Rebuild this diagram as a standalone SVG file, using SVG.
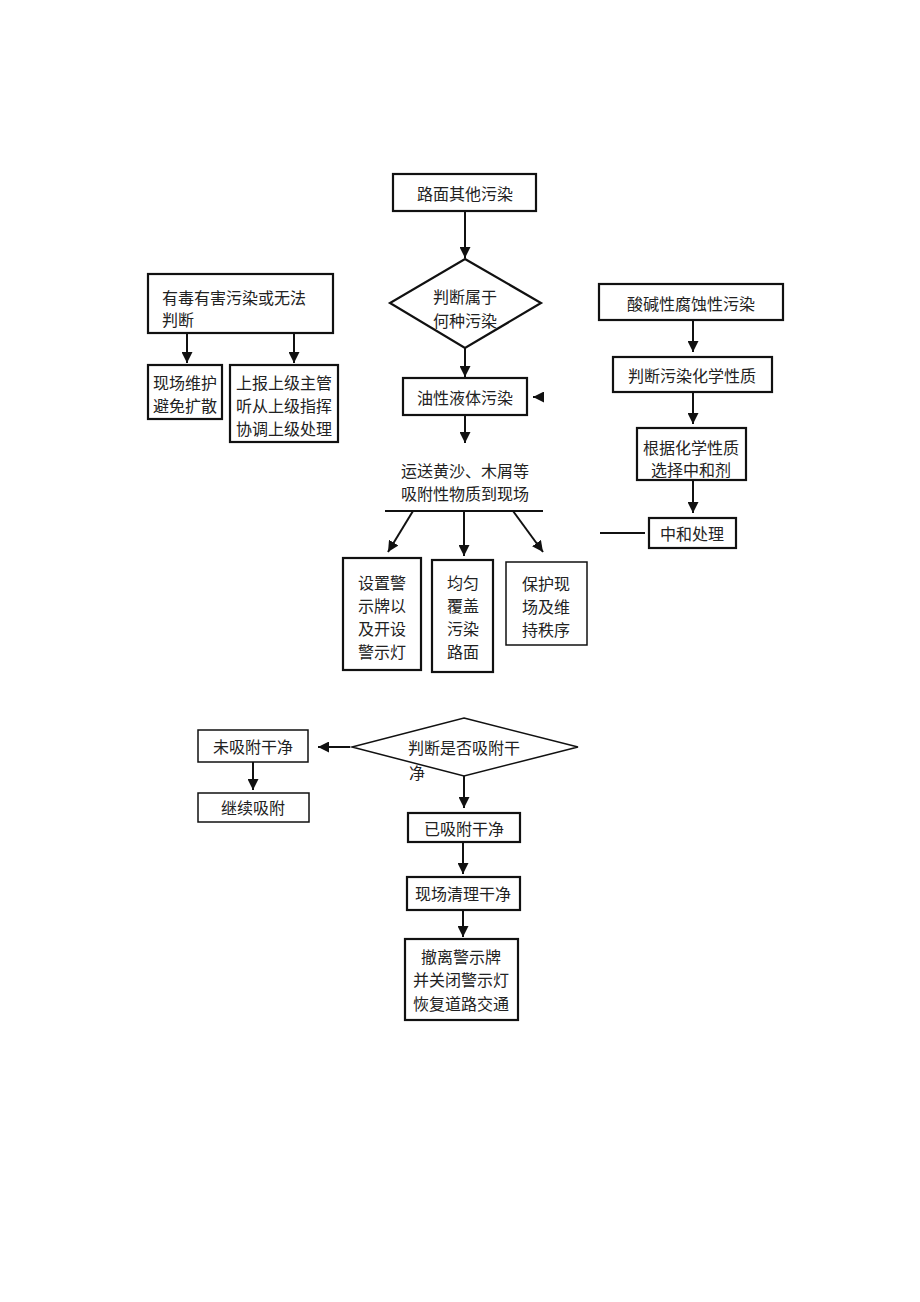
<svg xmlns="http://www.w3.org/2000/svg" width="920" height="1302" viewBox="0 0 920 1302">
<style>
.b{fill:#fff;stroke:#111;stroke-width:2.2}
.t{stroke:#111;stroke-width:1.5}
.c{fill:none;stroke:#111;stroke-width:2}
text{font-family:"Noto Sans CJK SC","Noto Sans CJK JP",sans-serif;font-size:16px;fill:#222;text-anchor:middle;dominant-baseline:central}
.l{text-anchor:start}
</style>
<defs>
<marker id="a" viewBox="0 0 10 10" refX="10" refY="5" markerWidth="5.5" markerHeight="5.5" orient="auto" markerUnits="strokeWidth">
<path d="M0,0 L10,5 L0,10 z" fill="#111"/>
</marker>
</defs>
<rect width="920" height="1302" fill="#fff"/>
<g id="connectors">
<path class="c" d="M465,211 V258" marker-end="url(#a)"/>
<path class="c" d="M465,348 V377" marker-end="url(#a)"/>
<path class="c" d="M542,397 H533" marker-end="url(#a)"/>
<path class="c" d="M465,415 V443" marker-end="url(#a)"/>
<path class="c" d="M385,511 H543"/>
<path class="c" d="M413,511 L388,552" marker-end="url(#a)"/>
<path class="c" d="M464,511 V556" marker-end="url(#a)"/>
<path class="c" d="M513,511 L543,552" marker-end="url(#a)"/>
<path class="c" d="M187,333 V363" marker-end="url(#a)"/>
<path class="c" d="M294,333 V363" marker-end="url(#a)"/>
<path class="c" d="M693,320 V352" marker-end="url(#a)"/>
<path class="c" d="M693,392 V424" marker-end="url(#a)"/>
<path class="c" d="M693,480 V513" marker-end="url(#a)"/>
<path class="c" d="M600,533 H645"/>
<path class="c" d="M350,747 H318" marker-end="url(#a)"/>
<path class="c" d="M253,762 V790" marker-end="url(#a)"/>
<path class="c" d="M464,776 V808" marker-end="url(#a)"/>
<path class="c" d="M463,842 V874" marker-end="url(#a)"/>
<path class="c" d="M463,910 V937" marker-end="url(#a)"/>
</g>
<g id="n1"><rect class="b" x="393" y="174" width="143" height="37"/><text x="465" y="193">路面其他污染</text></g>
<g id="n2"><polygon class="b" points="465,259 541,303 465,348 390,303"/><text x="465" y="296">判断属于</text><text x="465" y="320">何种污染</text></g>
<g id="n3"><rect class="b" x="403" y="378" width="124" height="37"/><text x="465" y="397">油性液体污染</text></g>
<g id="n4"><text x="465" y="470">运送黄沙、木屑等</text><text x="465" y="493">吸附性物质到现场</text></g>
<g id="n5"><rect class="b" x="343" y="558" width="78" height="112"/><text x="382" y="582">设置警</text><text x="382" y="605">示牌以</text><text x="382" y="628">及开设</text><text x="382" y="651">警示灯</text></g>
<g id="n6"><rect class="b" x="432" y="560" width="61" height="112"/><text x="463" y="582">均匀</text><text x="463" y="605">覆盖</text><text x="463" y="628">污染</text><text x="463" y="651">路面</text></g>
<g id="n7"><rect class="b t" x="506" y="562" width="81" height="83"/><text x="546" y="583">保护现</text><text x="546" y="606">场及维</text><text x="546" y="629">持秩序</text></g>
<g id="n8"><rect class="b" x="148" y="274" width="185" height="59"/><text class="l" x="162" y="297">有毒有害污染或无法</text><text class="l" x="162" y="319">判断</text></g>
<g id="n9"><rect class="b" x="148" y="365" width="74" height="54"/><text x="185" y="382">现场维护</text><text x="185" y="405">避免扩散</text></g>
<g id="n10"><rect class="b" x="230" y="365" width="108" height="77"/><text x="284" y="382">上报上级主管</text><text x="284" y="405">听从上级指挥</text><text x="284" y="428">协调上级处理</text></g>
<g id="n11"><rect class="b" x="599" y="284" width="184" height="36"/><text x="691" y="303">酸碱性腐蚀性污染</text></g>
<g id="n12"><rect class="b" x="613" y="357" width="159" height="35"/><text x="692" y="375">判断污染化学性质</text></g>
<g id="n13"><rect class="b" x="637" y="428" width="109" height="52"/><text x="691" y="447">根据化学性质</text><text x="691" y="469">选择中和剂</text></g>
<g id="n14"><rect class="b" x="649" y="518" width="87" height="30"/><text x="692" y="533">中和处理</text></g>
<g id="n15"><polygon class="b t" points="464,718 578,747 464,776 352,747"/><text class="l" x="408" y="747">判断是否吸附干</text><text class="l" x="409" y="772">净</text></g>
<g id="n16"><rect class="b t" x="198" y="730" width="110" height="32"/><text x="253" y="746">未吸附干净</text></g>
<g id="n17"><rect class="b t" x="198" y="793" width="111" height="29"/><text x="253" y="807">继续吸附</text></g>
<g id="n18"><rect class="b" x="408" y="813" width="112" height="29"/><text x="464" y="828">已吸附干净</text></g>
<g id="n19"><rect class="b" x="407" y="877" width="113" height="33"/><text x="463" y="893">现场清理干净</text></g>
<g id="n20"><rect class="b" x="405" y="939" width="113" height="81"/><text x="461" y="956">撤离警示牌</text><text x="461" y="979">并关闭警示灯</text><text x="461" y="1003">恢复道路交通</text></g>
</svg>
